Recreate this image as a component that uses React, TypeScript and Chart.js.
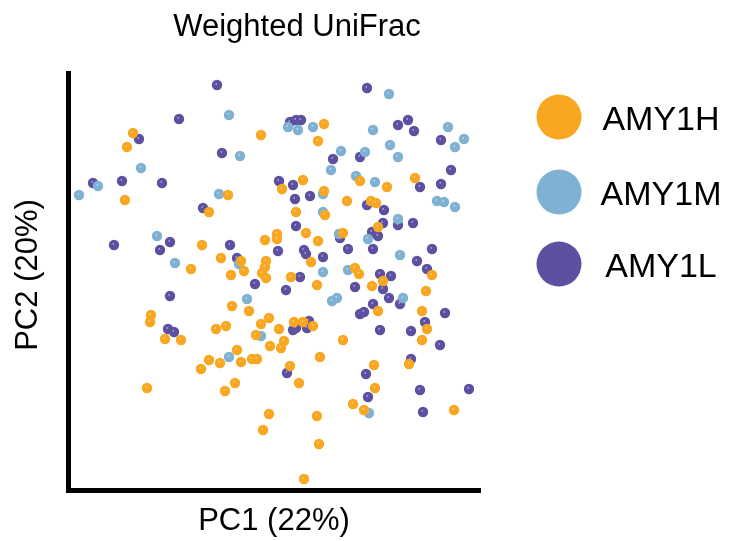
import React, { useEffect, useRef } from "react";
import { Chart, registerables } from "chart.js";

Chart.register(...registerables);

// PCoA scores (weighted UniFrac), in units of 0.001
const amy1h: [number, number][] = [
  [-140, 150], [-146, 136], [-148, 83], [-64, 71], [-12, 148], [51, 159], [45, 142], [30, 103],
  [9, 94], [-45, 88], [51, 92], [74, 82], [23, 71], [52, 68], [142, 105], [87, 102],
  [114, 96], [98, 82], [103, 80], [-71, 38], [-82, 14], [-122, -32], [-123, -39], [-108, -56],
  [-92, -57], [4, 49], [4, 44], [-8, 43], [33, 50], [45, 42], [70, 50], [-52, 25],
  [-32, 22], [-7, 22], [-8, 16], [38, 21], [-29, 12], [-11, 10], [-7, 5], [-42, 8],
  [18, 6], [44, -2], [-41, -23], [-24, -28], [-4, -35], [-12, -41], [-57, -46], [-47, -43],
  [21, -39], [30, -39], [40, -43], [6, -46], [-17, -52], [11, -58], [-3, -63], [8, -65],
  [-36, -67], [70, -57], [105, 56], [82, 15], [86, 9], [99, -3], [110, 2], [159, 8],
  [153, -8], [105, -28], [149, -28], [154, -46], [149, -57], [-64, -77], [-72, -86], [-126, -105],
  [-53, -80], [-32, -79], [-21, -76], [-16, -76], [47, -74], [17, -83], [26, -100], [-38, -100],
  [-48, -108], [-4, -131], [-10, -147], [44, -133], [46, -161], [31, -196], [136, -81], [101, -82],
  [102, -105], [80, -121], [91, -127], [181, -127],
];

const amy1m: [number, number][] = [
  [-132, 115], [-175, 97], [-194, 88], [-44, 168], [15, 156], [25, 153], [40, 156], [68, 132],
  [58, 113], [-33, 127], [-54, 89], [50, 89], [50, 71], [116, 189], [100, 153], [175, 156],
  [191, 144], [182, 136], [92, 131], [117, 138], [125, 126], [83, 107], [102, 101], [164, 82],
  [171, 81], [182, 76], [-116, 47], [-98, 20], [66, 49], [-34, 19], [50, 11], [-26, -16],
  [59, -18], [64, -15], [-12, -53], [125, 64], [95, 44], [127, 28], [75, 13], [130, -15],
  [-44, -74], [96, -130],
];

const amy1l: [number, number][] = [
  [-94, 164], [-134, 144], [-180, 100], [-151, 102], [-111, 100], [-70, 75], [-56, 198], [17, 161],
  [23, 163], [28, 163], [60, 124], [-51, 130], [6, 102], [20, 98], [22, 84], [37, 87],
  [94, 195], [125, 158], [135, 163], [141, 152], [168, 143], [87, 126], [178, 113], [168, 99],
  [147, 96], [94, 78], [111, 73], [-103, 41], [-113, 33], [-159, 38], [-103, -13], [-105, -46],
  [-99, -49], [23, 57], [67, 45], [-43, 38], [5, 32], [31, 33], [33, 29], [50, 26],
  [-36, 25], [27, 6], [-18, -1], [13, -7], [36, -38], [20, -47], [23, -45], [34, -45],
  [110, 60], [125, 58], [140, 60], [99, 51], [105, 47], [75, 34], [100, 34], [159, 34],
  [144, 22], [154, 14], [107, 9], [118, 7], [110, -6], [82, -4], [116, -15], [127, -21],
  [100, -21], [87, -31], [91, -29], [172, -30], [152, -39], [107, -47], [138, -48], [167, -62],
  [14, -90], [138, -76], [93, -91], [95, -114], [147, -107], [196, -106], [150, -129],
];

const groupNames = ["AMY1H", "AMY1M", "AMY1L"];
const groupColors = ["#F9A620", "#7FB1D3", "#5E50A0"];
const groupData = [amy1h, amy1m, amy1l];

const chartTitle = "Weighted UniFrac";
const xTitle = "PC1 (22%)";
const yTitle = "PC2 (20%)";
const xRange = [-205, 207];
const yRange = [-207, 210];

const FONT = '"Liberation Sans", Arial, Helvetica, sans-serif';

// Small glossy dot used as the point marker
function makeDot(color: string): HTMLCanvasElement {
  const c = document.createElement("canvas");
  c.width = 12;
  c.height = 12;
  const g = c.getContext("2d")!;
  g.beginPath();
  g.arc(6, 6, 5.2, 0, Math.PI * 2);
  g.fillStyle = color;
  g.fill();
  g.fillStyle = "rgba(255,255,255,0.9)";
  g.fillRect(4.6, 4.4, 1.2, 1.1);
  return c;
}

// Chart title, y-axis title and legend drawn on the canvas
const decorPlugin = {
  id: "decor",
  afterDraw(chart: Chart) {
    const ctx = chart.ctx;
    ctx.save();
    ctx.fillStyle = "#000";
    ctx.font = `31px ${FONT}`;
    ctx.textAlign = "center";
    ctx.textBaseline = "middle";
    ctx.fillText(chartTitle, 297, 27);

    ctx.save();
    ctx.translate(28, 275);
    ctx.rotate(-Math.PI / 2);
    ctx.fillText(yTitle, 0, 0);
    ctx.restore();

    const cx = 559;
    const rows = [117, 192, 264];
    ctx.font = `34px ${FONT}`;
    ctx.textBaseline = "alphabetic";
    groupNames.forEach((name, i) => {
      ctx.beginPath();
      ctx.arc(cx, rows[i], 22.5, 0, Math.PI * 2);
      ctx.fillStyle = groupColors[i];
      ctx.fill();
      ctx.fillStyle = "#000";
      ctx.fillText(name, 661, rows[i] + 12.5);
    });
    ctx.restore();
  },
};

export default function App() {
  const ref = useRef<HTMLCanvasElement | null>(null);

  useEffect(() => {
    if (!ref.current) return;
    const chart = new Chart(ref.current, {
      type: "scatter",
      data: {
        datasets: groupNames.map((name, i) => ({
          label: name,
          data: groupData[i].map(([x, y]) => ({ x, y })),
          pointStyle: makeDot(groupColors[i]),
          pointRadius: 5,
          backgroundColor: groupColors[i],
          borderColor: groupColors[i],
        })),
      },
      options: {
        animation: false,
        responsive: false,
        events: [],
        layout: { padding: { left: 0, top: 73, right: 256, bottom: 0 } },
        plugins: {
          legend: { display: false },
          title: { display: false },
          tooltip: { enabled: false },
        },
        scales: {
          x: {
            type: "linear",
            min: xRange[0],
            max: xRange[1],
            ticks: { display: false },
            grid: { display: false, drawTicks: false },
            border: { display: true, width: 5, color: "#000" },
            title: {
              display: true,
              text: xTitle,
              color: "#000",
              font: { family: FONT, size: 31 },
              padding: { top: 0, bottom: 1 },
            },
            afterFit: (s: any) => {
              s.height = 51;
            },
          },
          y: {
            type: "linear",
            min: yRange[0],
            max: yRange[1],
            ticks: { display: false },
            grid: { display: false, drawTicks: false },
            border: { display: true, width: 5, color: "#000" },
            title: { display: false },
            afterFit: (s: any) => {
              s.width = 68;
            },
          },
        },
      },
      plugins: [decorPlugin],
    });
    return () => chart.destroy();
  }, []);

  return (
    <div style={{ position: "fixed", left: 0, top: 0, width: 736, height: 541, background: "#fff" }}>
      <canvas ref={ref} width={736} height={541} />
    </div>
  );
}
